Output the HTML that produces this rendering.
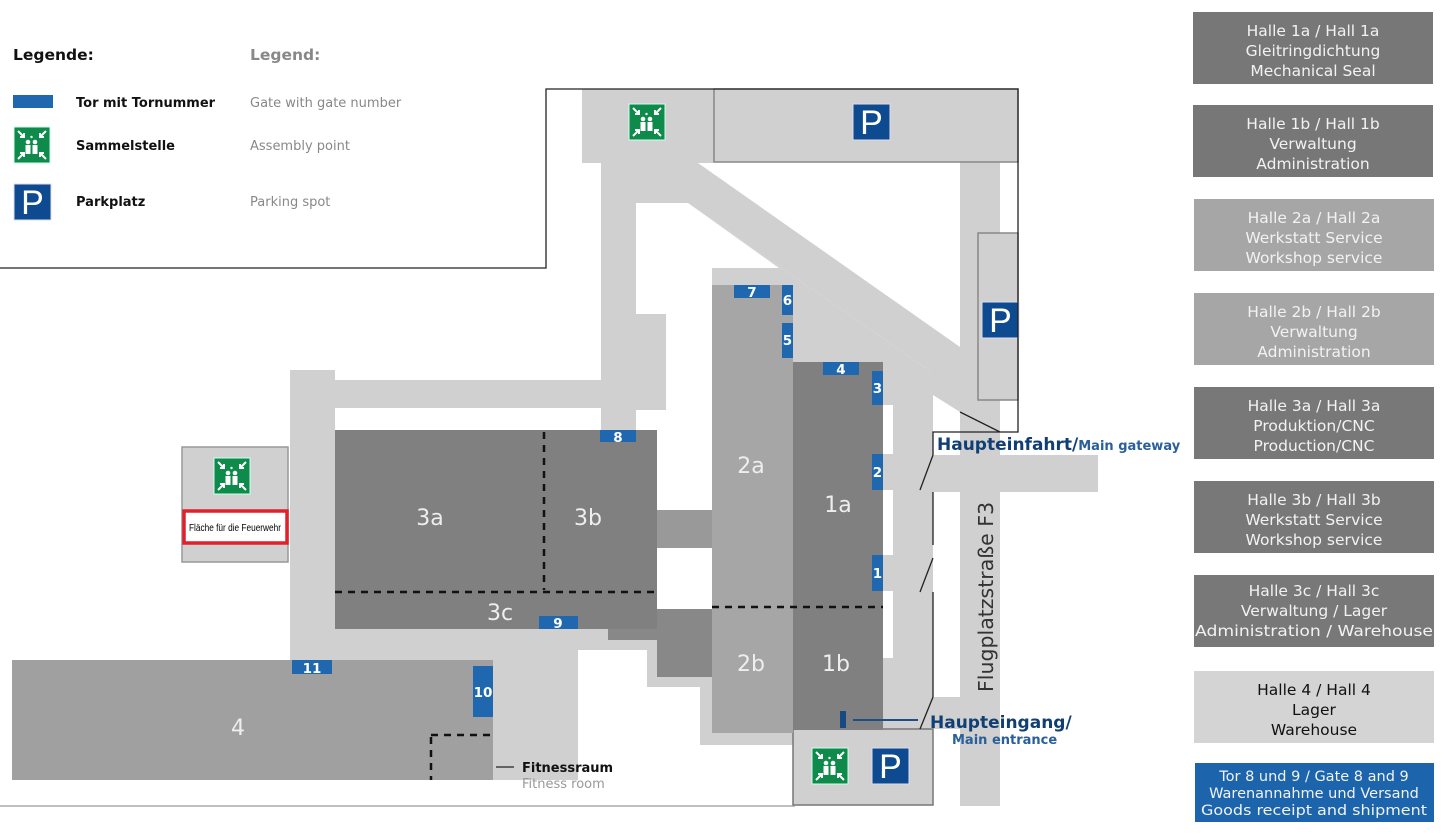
<!DOCTYPE html>
<html><head><meta charset="utf-8"><style>
html,body{margin:0;padding:0;background:#fff;}
svg{display:block;font-family:"DejaVu Sans","Liberation Sans",sans-serif;}
</style></head><body>
<svg width="1448" height="834" viewBox="0 0 1448 834" xmlns="http://www.w3.org/2000/svg">
<defs>
<g id="asm">
<rect x="0" y="0" width="36" height="36" fill="#0e8a4a" stroke="#cfe" stroke-width="1"/>
<circle cx="14" cy="15" r="2.3" fill="#fff"/><circle cx="21" cy="15" r="2.3" fill="#fff"/>
<rect x="11.5" y="18" width="5" height="9" fill="#fff"/><rect x="18.5" y="18" width="5" height="9" fill="#fff"/>
<circle cx="17.5" cy="10" r="1.2" fill="#fff"/>
<path d="M4 4 L10 10 M10 6 L10 10 L6 10 M32 4 L26 10 M26 6 L26 10 L30 10 M4 32 L10 26 M6 26 L10 26 L10 30 M32 32 L26 26 M30 26 L26 26 L26 30" stroke="#fff" stroke-width="2" fill="none"/>
</g>
<g id="park">
<rect x="0" y="0" width="37" height="36" fill="#0e4a8f" stroke="#dde" stroke-width="1"/>
<text x="18.5" y="30" font-family="Liberation Sans,sans-serif" font-size="34" fill="#fff" text-anchor="middle">P</text>
</g>
</defs>

<g fill="#d0d0d0">
<rect x="582" y="89" width="132" height="74"/>
<rect x="601" y="163" width="35" height="267"/>
<rect x="636" y="314" width="30" height="96"/>
<rect x="335" y="380" width="331" height="28"/>
<rect x="290" y="370" width="45" height="290"/>
<rect x="335" y="629" width="243" height="31"/>
<rect x="493" y="629" width="85" height="151"/>
<rect x="578" y="629" width="79" height="21"/>
<rect x="647" y="640" width="10" height="47"/>
<rect x="657" y="677" width="55" height="10"/>
<rect x="700" y="687" width="12" height="58"/>
<rect x="712" y="730" width="81" height="15"/>
<polygon points="636,163 698,163 960,347 960,412 933,395 933,373 688,203 636,203"/>
<polygon points="688,203 933,373 933,380 883,380 883,362 793,362 793,285 712,285 712,268 779,268"/>
<rect x="883" y="372" width="50" height="358"/>
<rect x="960" y="162" width="40" height="644"/>
<rect x="920" y="455" width="178" height="37"/>
<rect x="920" y="697" width="80" height="32"/>
<rect x="714" y="89" width="304" height="73" stroke="#888" stroke-width="1.5"/>
<rect x="978" y="233" width="40" height="167" stroke="#888" stroke-width="1.5"/>
<rect x="182" y="447" width="106" height="115" stroke="#999" stroke-width="1.5"/>
<rect x="793" y="729" width="140" height="76" stroke="#777" stroke-width="1.5"/>
</g>
<g fill="#fff">
<rect x="883" y="405" width="10" height="49"/>
<rect x="883" y="490" width="10" height="65"/>
<rect x="883" y="591" width="10" height="67"/>
</g>

<rect x="657" y="510" width="55" height="38" fill="#999"/>
<rect x="657" y="609" width="55" height="68" fill="#888"/>
<rect x="608" y="629" width="49" height="11" fill="#888"/>

<rect x="335" y="430" width="322" height="199" fill="#808080"/>
<rect x="712" y="285" width="81" height="448" fill="#a6a6a6"/>
<rect x="793" y="362" width="90" height="368" fill="#808080"/>
<rect x="12" y="660" width="481" height="120" fill="#a0a0a0"/>

<g stroke="#111" stroke-width="2.5" stroke-dasharray="7,6" fill="none">
<line x1="544" y1="432" x2="544" y2="590"/>
<line x1="335" y1="592" x2="657" y2="592"/>
<line x1="712" y1="607" x2="883" y2="607"/>
<line x1="431" y1="735" x2="493" y2="735"/>
<line x1="431" y1="737" x2="431" y2="780"/>
</g>

<g fill="#eee" font-size="22" text-anchor="middle">
<text x="430" y="525">3a</text><text x="588" y="525">3b</text>
<text x="500" y="620">3c</text><text x="751" y="473">2a</text>
<text x="838" y="512">1a</text><text x="751" y="671">2b</text>
<text x="836" y="671">1b</text><text x="238" y="735">4</text>
</g>

<g fill="#1f68b0">
<rect x="734" y="285" width="36" height="13"/>
<rect x="782" y="285" width="11" height="30"/>
<rect x="782" y="323" width="11" height="35"/>
<rect x="823" y="362" width="36" height="13"/>
<rect x="872" y="371" width="11" height="34"/>
<rect x="872" y="454" width="11" height="36"/>
<rect x="872" y="555" width="11" height="36"/>
<rect x="600" y="430" width="36" height="12"/>
<rect x="539" y="616" width="39" height="13"/>
<rect x="292" y="660" width="40" height="14"/>
<rect x="473" y="666" width="20" height="51"/>
<rect x="13" y="95" width="40" height="13"/>
</g>
<rect x="840" y="711" width="6" height="17" fill="#164a80"/>
<g fill="#fff" font-size="13.5" font-weight="bold" text-anchor="middle">
<text x="752" y="297">7</text><text x="787.5" y="305">6</text><text x="787.5" y="345">5</text>
<text x="841" y="374">4</text><text x="877.5" y="393">3</text><text x="877.5" y="477">2</text>
<text x="877.5" y="578">1</text><text x="618" y="442">8</text><text x="558" y="628">9</text>
<text x="312" y="673">11</text><text x="483" y="697">10</text>
</g>

<use href="#asm" x="629" y="104"/>
<use href="#park" x="853" y="104"/>
<use href="#park" x="982" y="302"/>
<use href="#asm" x="214" y="458"/>
<use href="#asm" x="812" y="748"/>
<use href="#park" x="872" y="748"/>
<use href="#asm" x="14" y="127"/>
<use href="#park" x="14" y="184"/>

<rect x="184" y="511" width="103" height="32" fill="#fff" stroke="#e0202a" stroke-width="3.5"/>
<text x="235" y="531" font-size="10" text-anchor="middle" fill="#000" font-family="Liberation Sans,sans-serif" textLength="92" lengthAdjust="spacingAndGlyphs">Fläche für die Feuerwehr</text>

<g stroke="#222" stroke-width="1.3" fill="none">
<polyline points="0,268 546,268 546,89 1018,89 1018,432 933,432 933,455"/>
<line x1="960" y1="412" x2="1000" y2="432"/>
<line x1="933" y1="455" x2="920" y2="490"/>
<line x1="933" y1="492" x2="933" y2="545"/>
<line x1="933" y1="558" x2="920" y2="592"/>
<line x1="933" y1="592" x2="933" y2="697"/>
<line x1="933" y1="697" x2="920" y2="729"/>
<line x1="0" y1="806" x2="795" y2="806" stroke="#999"/>
<line x1="496" y1="767" x2="514" y2="767"/>
</g>
<line x1="853" y1="720" x2="918" y2="720" stroke="#1a4f88" stroke-width="2"/>

<g font-weight="bold" font-size="15.5">
<text x="13" y="60" fill="#111">Legende:</text>
<text x="250" y="60" fill="#888">Legend:</text>
</g>
<g font-size="13">
<text x="76" y="107" fill="#111" font-weight="bold">Tor mit Tornummer</text>
<text x="76" y="150" fill="#111" font-weight="bold">Sammelstelle</text>
<text x="76" y="206" fill="#111" font-weight="bold">Parkplatz</text>
<text x="250" y="107" fill="#888">Gate with gate number</text>
<text x="250" y="150" fill="#888">Assembly point</text>
<text x="250" y="206" fill="#888">Parking spot</text>
<text x="522" y="772" fill="#111" font-weight="bold">Fitnessraum</text>
<text x="522" y="788" fill="#999">Fitness room</text>
</g>
<text x="937" y="450" font-size="17" font-weight="bold" fill="#123f73">Haupteinfahrt/<tspan font-size="13" fill="#2a5f9a">Main gateway</tspan></text>
<text x="930" y="728" font-size="17" font-weight="bold" fill="#123f73">Haupteingang/</text>
<text x="952" y="744" font-size="13" font-weight="bold" fill="#2a5f9a">Main entrance</text>
<text transform="translate(993,692) rotate(-90)" font-size="20.5" fill="#333">Flugplatzstraße F3</text>

<g>
<rect x="1193" y="12" width="240" height="72" fill="#777"/>
<rect x="1193" y="105" width="240" height="72" fill="#777"/>
<rect x="1194" y="199" width="240" height="72" fill="#a6a6a6"/>
<rect x="1194" y="293" width="240" height="72" fill="#a6a6a6"/>
<rect x="1194" y="387" width="240" height="72" fill="#787878"/>
<rect x="1194" y="481" width="240" height="72" fill="#787878"/>
<rect x="1194" y="575" width="240" height="72" fill="#787878"/>
<rect x="1194" y="671" width="240" height="72" fill="#d4d4d4"/>
<rect x="1195" y="763" width="239" height="59" fill="#1c64ab"/>
</g>
<g font-size="15.5" fill="#f2f2f2" text-anchor="middle">
<text x="1313" y="36">Halle 1a / Hall 1a</text><text x="1313" y="56">Gleitringdichtung</text><text x="1313" y="76">Mechanical Seal</text>
<text x="1313" y="129">Halle 1b / Hall 1b</text><text x="1313" y="149">Verwaltung</text><text x="1313" y="169">Administration</text>
<text x="1314" y="223">Halle 2a / Hall 2a</text><text x="1314" y="243">Werkstatt Service</text><text x="1314" y="263">Workshop service</text>
<text x="1314" y="317">Halle 2b / Hall 2b</text><text x="1314" y="337">Verwaltung</text><text x="1314" y="357">Administration</text>
<text x="1314" y="411">Halle 3a / Hall 3a</text><text x="1314" y="431">Produktion/CNC</text><text x="1314" y="451">Production/CNC</text>
<text x="1314" y="505">Halle 3b / Hall 3b</text><text x="1314" y="525">Werkstatt Service</text><text x="1314" y="545">Workshop service</text>
<text x="1314" y="596">Halle 3c / Hall 3c</text><text x="1314" y="616">Verwaltung / Lager</text><text x="1314" y="636" textLength="238" lengthAdjust="spacingAndGlyphs">Administration / Warehouse</text>
<text x="1314" y="695" fill="#111">Halle 4 / Hall 4</text><text x="1314" y="715" fill="#111">Lager</text><text x="1314" y="735" fill="#111">Warehouse</text>
<text x="1314" y="781" font-size="14.5">Tor 8 und 9 / Gate 8 and 9</text><text x="1314" y="798" font-size="14.5">Warenannahme und Versand</text><text x="1314" y="815" font-size="14.5" textLength="226" lengthAdjust="spacingAndGlyphs">Goods receipt and shipment</text>
</g>
</svg>
</body></html>
